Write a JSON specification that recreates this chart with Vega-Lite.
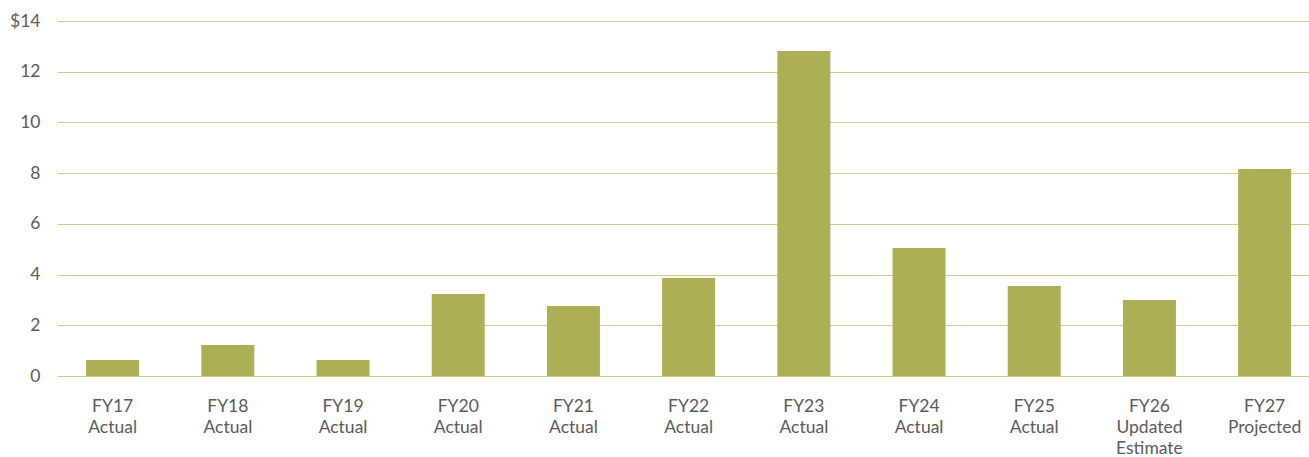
{
  "$schema": "https://vega.github.io/schema/vega-lite/v6.json",
  "autosize": "none",
  "width": 1252,
  "height": 355,
  "padding": {"left": 57, "top": 21, "right": 0, "bottom": 81},
  "background": "white",
  "config": {"view": {"stroke": null}, "font": "Lato"},
  "data": {"values": [
    {"year": "FY17 Actual", "value": 0.63},
    {"year": "FY18 Actual", "value": 1.22},
    {"year": "FY19 Actual", "value": 0.63},
    {"year": "FY20 Actual", "value": 3.23},
    {"year": "FY21 Actual", "value": 2.76},
    {"year": "FY22 Actual", "value": 3.86},
    {"year": "FY23 Actual", "value": 12.82},
    {"year": "FY24 Actual", "value": 5.05},
    {"year": "FY25 Actual", "value": 3.55},
    {"year": "FY26 Updated Estimate", "value": 3.0},
    {"year": "FY27 Projected", "value": 8.16}
  ]},
  "mark": {"type": "bar", "color": "#adaf56"},
  "encoding": {
    "x": {
      "field": "year", "type": "nominal", "sort": null,
      "scale": {"paddingInner": 0.54, "paddingOuter": 0.204, "align": 0.62},
      "axis": {
        "title": null, "ticks": false, "domain": false,
        "labelAngle": 0, "labelExpr": "split(datum.label, ' ')",
        "labelFontSize": 17.5, "labelColor": "#5a5a5a", "labelPadding": 21,
        "labelLineHeight": 21, "labelBaseline": "top"
      }
    },
    "y": {
      "field": "value", "type": "quantitative",
      "scale": {"domain": [0, 14], "nice": false},
      "axis": {
        "title": null, "values": [0, 2, 4, 6, 8, 10, 12, 14],
        "labelExpr": "datum.value == 14 ? '$14' : datum.label",
        "ticks": false, "domain": false,
        "gridColor": "#cbcb8a", "gridWidth": 1,
        "labelFontSize": 17.5, "labelColor": "#5a5a5a", "labelPadding": 17
      }
    }
  }
}
